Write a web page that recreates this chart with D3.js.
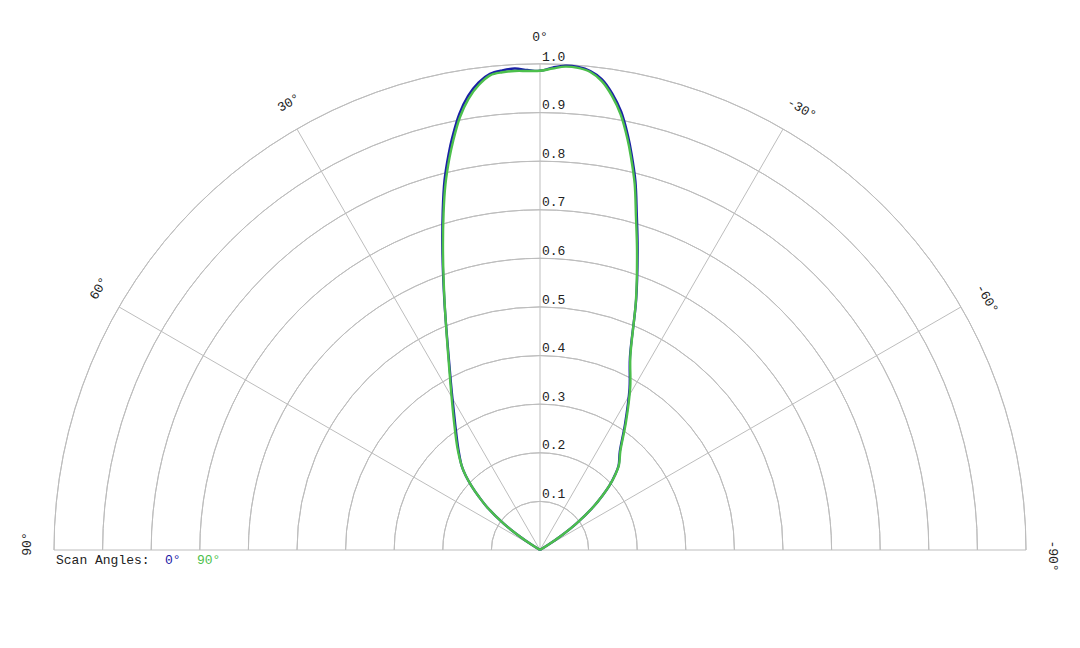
<!DOCTYPE html>
<html>
<head>
<meta charset="utf-8">
<script src="https://cdn.jsdelivr.net/npm/d3@7"></script>
<style>
  html, body { margin: 0; padding: 0; background: #fff; }
  svg { display: block; }
  text { font-family: "Courier New", "Liberation Mono", monospace; fill: #222; }
</style>
</head>
<body>
<svg id="chart" width="1080" height="648"></svg>
<script>
// ---- data ----
const angles = [90, 70, 60, 58, 56, 54, 51, 49, 47, 45, 43, 39, 34, 29, 25, 21, 18, 16, 14.5, 13, 12, 10.5, 9, 7.5, 6, 4.5, 3, 1.5, 0,
  -1.5, -3, -4.5, -6, -7.5, -9, -10.5, -12, -13, -14.5, -16, -18, -21, -25, -29, -34, -39, -43, -45, -47, -49, -51, -54, -56, -58, -60, -70, -90];
const scan90 = [0, 0, 0, 0.02, 0.056, 0.093, 0.14, 0.166, 0.192, 0.216, 0.236, 0.27, 0.316, 0.378, 0.448, 0.548, 0.646, 0.72, 0.777, 0.828, 0.86, 0.905, 0.94, 0.965, 0.982, 0.986, 0.987, 0.986, 0.986,
  0.991, 0.996, 0.995, 0.989, 0.973, 0.946, 0.911, 0.865, 0.831, 0.778, 0.716, 0.646, 0.551, 0.44, 0.383, 0.316, 0.263, 0.238, 0.219, 0.197, 0.17, 0.142, 0.093, 0.056, 0.02, 0, 0, 0];
const scan0 = [0, 0, 0, 0.02, 0.056, 0.093, 0.14, 0.166, 0.192, 0.216, 0.236, 0.267, 0.312, 0.375, 0.446, 0.549, 0.65, 0.726, 0.785, 0.836, 0.868, 0.912, 0.946, 0.97, 0.985, 0.99, 0.992, 0.988, 0.986,
  0.993, 0.998, 0.997, 0.991, 0.977, 0.951, 0.917, 0.871, 0.837, 0.784, 0.722, 0.65, 0.552, 0.438, 0.38, 0.313, 0.261, 0.237, 0.218, 0.197, 0.17, 0.142, 0.093, 0.056, 0.02, 0, 0, 0];
const ringTicks = [0.1, 0.2, 0.3, 0.4, 0.5, 0.6, 0.7, 0.8, 0.9, 1.0];
const ringLabels = ["0.1", "0.2", "0.3", "0.4", "0.5", "0.6", "0.7", "0.8", "0.9", "1.0"];
const spokeAngles = [90, 60, 30, 0, -30, -60, -90];
const spokeLabels = ["90°", "60°", "30°", "0°", "-30°", "-60°", "-90°"];
const seriesNames = ["0°", "90°"];
const seriesColors = ["#1a20a6", "#4cbf4c"];

// ---- layout ----
const cx = 540, cy = 550, R = 486;
const svg = d3.select("#chart");
const g = svg.append("g").attr("transform", `translate(${cx},${cy})`);

const r = d3.scaleLinear().domain([0, 1]).range([0, R]);
// angle in degrees (positive = left) -> radians clockwise from 12 o'clock
const a = d3.scaleLinear().domain([-90, 90]).range([Math.PI / 2, -Math.PI / 2]);

const gridColor = "#bdbdbd";

// rings
const arc = d3.arc().startAngle(-Math.PI / 2).endAngle(Math.PI / 2);
g.append("g").selectAll("path").data(ringTicks).join("path")
  .attr("d", d => arc({ innerRadius: r(d), outerRadius: r(d) }))
  .attr("fill", "none").attr("stroke", gridColor).attr("stroke-width", 1);

// spokes
g.append("g").selectAll("line").data(spokeAngles).join("line")
  .attr("x1", 0).attr("y1", 0)
  .attr("x2", d => r(1) * Math.sin(a(d)))
  .attr("y2", d => -r(1) * Math.cos(a(d)))
  .attr("stroke", gridColor).attr("stroke-width", 1);

// ring labels
g.append("g").selectAll("text").data(ringTicks).join("text")
  .attr("x", 2).attr("y", d => -r(d) - 3.5)
  .attr("font-size", 13)
  .text((d, i) => ringLabels[i]);

// angle labels
g.append("g").selectAll("text").data(spokeAngles).join("text")
  .attr("transform", d => `rotate(${-d})`)
  .attr("x", d => d === 0 ? 0 : 6)
  .attr("y", -r(1) - 23)
  .attr("text-anchor", "middle")
  .attr("font-size", 13)
  .text((d, i) => spokeLabels[i]);

// curves
const line = d3.lineRadial()
  .angle(d => a(d[0]))
  .radius(d => r(d[1]))
  .curve(d3.curveCatmullRom.alpha(0.5));

[scan0, scan90].forEach((vals, k) => {
  g.append("path")
    .datum(angles.map((ang, i) => [ang, vals[i]]))
    .attr("d", line)
    .attr("fill", "none")
    .attr("stroke", seriesColors[k])
    .attr("stroke-width", 2.4)
    .attr("stroke-linejoin", "round");
});

// legend
const leg = svg.append("g").attr("transform", `translate(${cx - R + 2},${cy + 14})`);
leg.append("text").attr("x", 0).attr("y", 0).attr("font-size", 13).text("Scan Angles:");
const legX = [109, 141];
seriesNames.forEach((n, i) => {
  leg.append("text").attr("x", legX[i]).attr("y", 0).attr("font-size", 13)
    .style("fill", seriesColors[i]).text(n);
});
</script>
</body>
</html>
